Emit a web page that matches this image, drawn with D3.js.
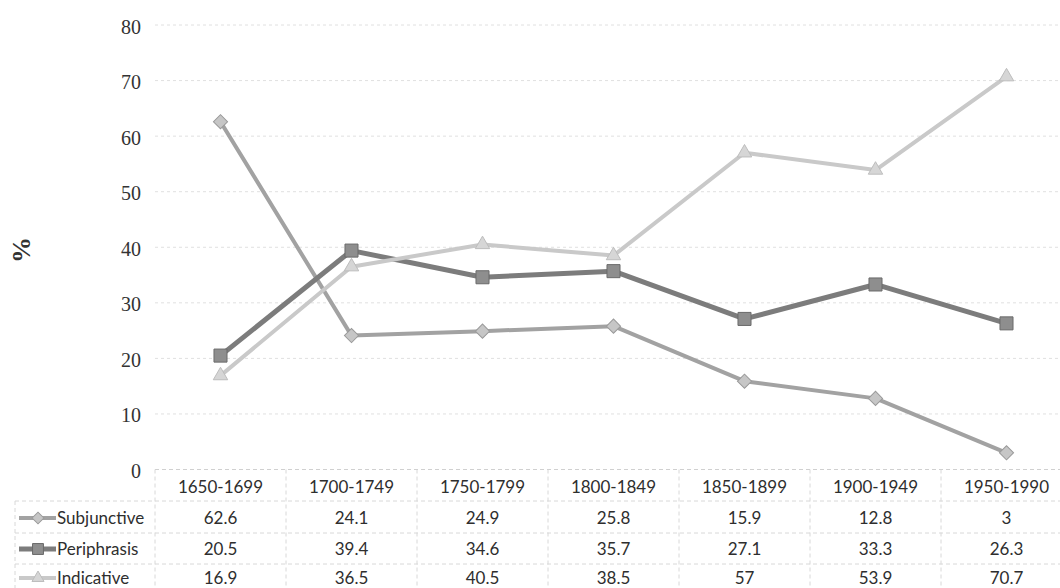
<!DOCTYPE html>
<html>
<head>
<meta charset="utf-8">
<script src="https://cdn.jsdelivr.net/npm/d3@7"></script>
<style>
  body { margin: 0; background: #fff; }
  svg { display: block; }
  .serif { font-family: "Liberation Serif", "DejaVu Serif", serif; }
  .sans { font-family: Lato, "Open Sans", sans-serif; font-size: 17px; fill: #2e2e2e; }
</style>
</head>
<body>
<div id="chart"></div>
<script>
var periods = ["1650-1699", "1700-1749", "1750-1799", "1800-1849", "1850-1899", "1900-1949", "1950-1990"];
var subjunctive = [62.6, 24.1, 24.9, 25.8, 15.9, 12.8, 3];
var periphrasis = [20.5, 39.4, 34.6, 35.7, 27.1, 33.3, 26.3];
var indicative = [16.9, 36.5, 40.5, 38.5, 57, 53.9, 70.7];
var yTicks = [0, 10, 20, 30, 40, 50, 60, 70, 80];

var series = [
    { name: "Subjunctive", values: subjunctive, line: "#a2a2a2", fill: "#c6c6c6", stroke: "#9a9a9a", width: 4, symbol: d3.symbolSquare, size: 100, rot: 45 },
    { name: "Periphrasis", values: periphrasis, line: "#7c7c7c", fill: "#8e8e8e", stroke: "#6a6a6a", width: 5, symbol: d3.symbolSquare, size: 170, rot: 0 },
    { name: "Indicative", values: indicative, line: "#c9c9c9", fill: "#d6d6d6", stroke: "#bdbdbd", width: 4, symbol: d3.symbolTriangle, size: 90, rot: 0 }
];

var W = 1060, H = 588;
var svg = d3.select("#chart").append("svg")
    .attr("width", W)
    .attr("height", H);

var x = d3.scaleBand()
    .domain(periods)
    .range([155, 1072]);

var y = d3.scaleLinear()
    .domain([0, 80])
    .range([469.5, 25]);

function cx(j) { return x(periods[j]) + x.bandwidth() / 2; }

// gridlines
svg.append("g")
    .selectAll("line")
    .data(yTicks.filter(function (d) { return d > 0; }))
    .enter()
    .append("line")
    .attr("x1", 155)
    .attr("x2", W)
    .attr("y1", function (d) { return y(d); })
    .attr("y2", function (d) { return y(d); })
    .attr("stroke", "#e0e0e0")
    .attr("stroke-width", 1)
    .attr("stroke-dasharray", "3,3");

// y axis labels
var yAxis = d3.axisLeft(y).tickValues(yTicks).tickSize(0).tickPadding(0);
var gy = svg.append("g")
    .attr("transform", "translate(141,0)")
    .call(yAxis);
gy.select(".domain").remove();
gy.selectAll("text")
    .attr("class", "serif")
    .style("font-size", "20px")
    .style("fill", "#333")
    .attr("dy", "0.4em");

svg.append("text")
    .attr("class", "serif")
    .attr("transform", "translate(30,250) rotate(-90)")
    .attr("text-anchor", "middle")
    .style("font-weight", "bold")
    .style("font-size", "26px")
    .style("fill", "#333")
    .text("%");

// baseline of plot / top of table
svg.append("line")
    .attr("x1", 155).attr("x2", W)
    .attr("y1", y(0)).attr("y2", y(0))
    .attr("stroke", "#d0d0d0")
    .attr("stroke-dasharray", "4,3");

// table
var rowY = [487, 518, 549, 578];
var table = svg.append("g");
[501, 533, 564].forEach(function (ly) {
    table.append("line")
        .attr("x1", 15).attr("x2", W)
        .attr("y1", ly).attr("y2", ly)
        .attr("stroke", "#d8d8d8")
        .attr("stroke-dasharray", "4,3");
});
table.append("line")
    .attr("x1", 15).attr("x2", 15)
    .attr("y1", 501).attr("y2", H)
    .attr("stroke", "#d8d8d8")
    .attr("stroke-dasharray", "4,3");
table.selectAll(".vcol")
    .data(periods)
    .enter()
    .append("line")
    .attr("class", "vcol")
    .attr("x1", function (d) { return x(d); })
    .attr("x2", function (d) { return x(d); })
    .attr("y1", y(0))
    .attr("y2", H)
    .attr("stroke", "#d8d8d8")
    .attr("stroke-dasharray", "4,3");

table.selectAll(".hdr")
    .data(periods)
    .enter()
    .append("text")
    .attr("class", "sans")
    .attr("x", function (d) { return x(d) + x.bandwidth() / 2; })
    .attr("y", rowY[0])
    .attr("dy", "0.35em")
    .attr("text-anchor", "middle")
    .text(function (d) { return d; });

function marker(sel, s, scale) {
    sel.attr("d", d3.symbol().type(s.symbol).size(s.size * scale)())
        .attr("fill", s.fill)
        .attr("stroke", s.stroke)
        .attr("stroke-width", 1);
}

series.forEach(function (s, i) {
    var ry = rowY[i + 1];
    var g = table.append("g");
    // legend key
    g.append("line")
        .attr("x1", 19).attr("x2", 56)
        .attr("y1", ry).attr("y2", ry)
        .attr("stroke", s.line)
        .attr("stroke-width", s.width);
    g.append("path")
        .call(marker, s, 0.7)
        .attr("transform", "translate(38," + ry + ") rotate(" + s.rot + ")");
    g.append("text")
        .attr("class", "sans")
        .attr("x", 57)
        .attr("y", ry)
        .attr("dy", "0.35em")
        .text(s.name);
    g.selectAll(".val")
        .data(s.values)
        .enter()
        .append("text")
        .attr("class", "sans")
        .attr("x", function (d, j) { return cx(j); })
        .attr("y", ry)
        .attr("dy", "0.35em")
        .attr("text-anchor", "middle")
        .text(function (d) { return d; });
});

// lines
var line = d3.line()
    .x(function (d, j) { return cx(j); })
    .y(function (d) { return y(d); });

series.forEach(function (s) {
    var g = svg.append("g");
    g.append("path")
        .datum(s.values)
        .attr("d", line)
        .attr("fill", "none")
        .attr("stroke", s.line)
        .attr("stroke-width", s.width)
        .attr("stroke-linejoin", "round");
    g.selectAll(".pt")
        .data(s.values)
        .enter()
        .append("path")
        .attr("class", "pt")
        .call(marker, s, 1)
        .attr("transform", function (d, j) {
            return "translate(" + cx(j) + "," + y(d) + ") rotate(" + s.rot + ")";
        });
});
</script>
</body>
</html>
